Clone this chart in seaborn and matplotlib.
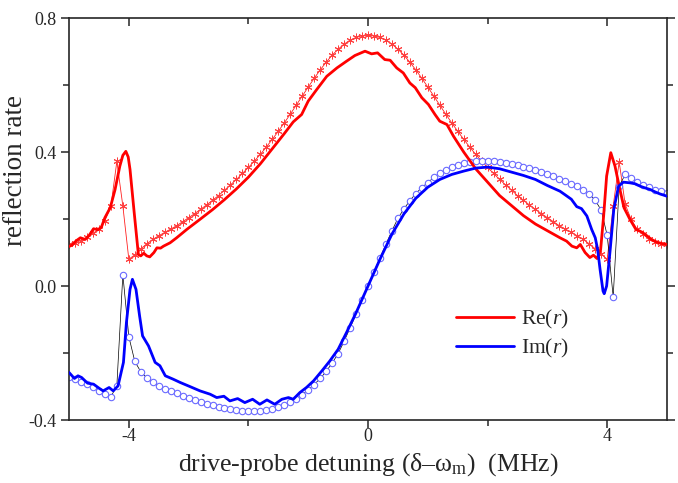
import numpy as np
import pandas as pd
import seaborn as sns
import matplotlib.pyplot as plt

# detuning grid of the fitted (marker) curves, MHz
x_fit = np.round(np.linspace(-5, 5, 101), 2)

re_fit = [0.124, 0.127, 0.133, 0.145, 0.157, 0.170, 0.195, 0.238, 0.372, 0.239,
          0.080, 0.093, 0.111, 0.126, 0.139, 0.150, 0.160, 0.170, 0.180, 0.192,
          0.204, 0.216, 0.229, 0.242, 0.256, 0.270, 0.286, 0.302, 0.318, 0.336,
          0.354, 0.373, 0.393, 0.415, 0.438, 0.462, 0.487, 0.513, 0.540, 0.567,
          0.594, 0.620, 0.645, 0.668, 0.689, 0.707, 0.722, 0.734, 0.742, 0.747,
          0.748,
          0.747, 0.742, 0.734, 0.722, 0.707, 0.689, 0.668, 0.645, 0.620, 0.594,
          0.567, 0.540, 0.513, 0.487, 0.462, 0.438, 0.415, 0.393, 0.373, 0.354,
          0.336, 0.318, 0.302, 0.286, 0.270, 0.256, 0.242, 0.229, 0.216, 0.204,
          0.192, 0.180, 0.170, 0.160, 0.150, 0.139, 0.126, 0.111, 0.095, 0.080,
          0.239, 0.371, 0.244, 0.199, 0.169, 0.154, 0.139, 0.131, 0.126, 0.124]

im_fit = [-0.272, -0.278, -0.286, -0.293, -0.301, -0.312, -0.323, -0.331, -0.297, 0.034,
          -0.151, -0.225, -0.256, -0.274, -0.288, -0.298, -0.306, -0.313, -0.320, -0.327,
          -0.334, -0.340, -0.346, -0.351, -0.356, -0.361, -0.365, -0.368, -0.371, -0.373,
          -0.374, -0.374, -0.373, -0.370, -0.366, -0.361, -0.355, -0.347, -0.337, -0.324,
          -0.309, -0.294, -0.276, -0.255, -0.230, -0.202, -0.165, -0.125, -0.084, -0.042,
          0.000,
          0.042, 0.084, 0.125, 0.165, 0.202, 0.230, 0.255, 0.276, 0.294, 0.309,
          0.324, 0.337, 0.347, 0.355, 0.361, 0.366, 0.370, 0.373, 0.374, 0.374,
          0.373, 0.371, 0.368, 0.365, 0.361, 0.356, 0.351, 0.346, 0.340, 0.334,
          0.327, 0.320, 0.313, 0.306, 0.298, 0.288, 0.275, 0.256, 0.226, 0.151,
          -0.033, 0.298, 0.333, 0.321, 0.311, 0.303, 0.296, 0.288, 0.283, 0.278]

# measured Re(r)
re_x = [-5.00, -4.95, -4.88, -4.81, -4.73, -4.66, -4.59, -4.52, -4.46, -4.40,
        -4.31, -4.23, -4.15, -4.10, -4.05, -4.01, -3.98, -3.91, -3.84, -3.80,
        -3.75, -3.70, -3.65, -3.58, -3.53, -3.47, -3.42, -3.31, -3.20, -3.03,
        -2.81, -2.60, -2.40, -2.20, -2.00, -1.80, -1.60, -1.40, -1.25, -1.11,
        -1.00, -0.86, -0.69, -0.52, -0.36, -0.22, -0.05, 0.06, 0.16, 0.28,
        0.37, 0.48, 0.59, 0.70, 0.79, 0.90, 1.01, 1.12, 1.20, 1.32,
        1.43, 1.60, 1.80, 2.00, 2.20, 2.40, 2.60, 2.80, 3.00, 3.21,
        3.32, 3.41, 3.49, 3.55, 3.63, 3.71, 3.77, 3.83, 3.89, 3.94,
        3.99, 4.06, 4.13, 4.20, 4.28, 4.38, 4.48, 4.58, 4.67, 4.74,
        4.83, 4.91, 5.00]
re_y = [0.118, 0.122, 0.135, 0.144, 0.139, 0.152, 0.171, 0.168, 0.175, 0.204,
        0.234, 0.288, 0.358, 0.390, 0.402, 0.385, 0.348, 0.219, 0.094, 0.090,
        0.098, 0.090, 0.087, 0.100, 0.114, 0.113, 0.119, 0.129, 0.144, 0.169,
        0.199, 0.228, 0.258, 0.290, 0.325, 0.365, 0.410, 0.455, 0.490, 0.512,
        0.552, 0.586, 0.626, 0.651, 0.671, 0.688, 0.701, 0.693, 0.696, 0.676,
        0.674, 0.651, 0.636, 0.606, 0.592, 0.562, 0.542, 0.512, 0.492, 0.482,
        0.447, 0.400, 0.350, 0.310, 0.270, 0.240, 0.210, 0.185, 0.165, 0.144,
        0.134, 0.119, 0.114, 0.124, 0.100, 0.085, 0.092, 0.082, 0.109, 0.209,
        0.328, 0.398, 0.358, 0.298, 0.234, 0.199, 0.169, 0.161, 0.149, 0.139,
        0.131, 0.127, 0.124]

# measured Im(r)
im_x = [-5.00, -4.95, -4.91, -4.85, -4.79, -4.69, -4.59, -4.49, -4.43, -4.33,
        -4.26, -4.18, -4.09, -4.04, -3.98, -3.94, -3.88, -3.82, -3.77, -3.67,
        -3.56, -3.48, -3.39, -3.26, -3.14, -2.98, -2.81, -2.64, -2.53, -2.41,
        -2.31, -2.18, -2.06, -1.93, -1.81, -1.69, -1.56, -1.44, -1.33, -1.25,
        -1.14, -1.03, -0.91, -0.77, -0.64, -0.50, -0.36, -0.20, 0.00, 0.20,
        0.40, 0.60, 0.80, 1.00, 1.20, 1.40, 1.60, 1.80, 2.00, 2.20,
        2.40, 2.60, 2.80, 3.00, 3.21, 3.29, 3.40, 3.49, 3.57, 3.66,
        3.74, 3.80, 3.84, 3.88, 3.93, 3.95, 3.99, 4.05, 4.11, 4.19,
        4.27, 4.38, 4.47, 4.55, 4.63, 4.72, 4.80, 4.88, 5.00]
im_y = [-0.258, -0.268, -0.276, -0.268, -0.273, -0.290, -0.293, -0.306, -0.313, -0.303,
        -0.313, -0.298, -0.228, -0.109, -0.010, 0.020, -0.010, -0.089, -0.149, -0.179,
        -0.228, -0.238, -0.268, -0.278, -0.288, -0.300, -0.313, -0.323, -0.333, -0.329,
        -0.343, -0.336, -0.348, -0.338, -0.353, -0.340, -0.353, -0.338, -0.333, -0.338,
        -0.318, -0.303, -0.283, -0.253, -0.224, -0.189, -0.139, -0.080, 0.000, 0.080,
        0.155, 0.215, 0.262, 0.295, 0.318, 0.333, 0.343, 0.352, 0.355, 0.350,
        0.340, 0.330, 0.318, 0.300, 0.283, 0.273, 0.259, 0.237, 0.231, 0.209,
        0.169, 0.144, 0.109, 0.050, -0.015, -0.023, 0.000, 0.109, 0.229, 0.298,
        0.310, 0.308, 0.305, 0.298, 0.293, 0.288, 0.281, 0.275, 0.268]

fit = pd.DataFrame({"x": x_fit, "re": re_fit, "im": im_fit})
re_df = pd.DataFrame({"x": re_x, "y": re_y})
im_df = pd.DataFrame({"x": im_x, "y": im_y})

sns.set_style("ticks")
plt.rcParams["font.family"] = ["Liberation Serif", "DejaVu Serif"]
plt.rcParams["mathtext.fontset"] = "custom"
plt.rcParams["mathtext.rm"] = "Liberation Serif"
plt.rcParams["mathtext.it"] = "Liberation Serif:italic"
plt.rcParams["axes.unicode_minus"] = False

fig = plt.figure(figsize=(6.78, 4.83), dpi=100)
ax = fig.add_axes([0.1018, 0.1304, 0.882, 0.8323])

# fitted curves with markers
ax.plot(fit["x"], fit["re"], color="#ff2020", lw=0.6, marker=(6, 2, 0),
        ms=5.5, mew=0.7, mec="#ff4040", zorder=2)
ax.plot(fit["x"], fit["im"], color="black", lw=0.5, zorder=2)
ax.plot(fit["x"], fit["im"], ls="none", marker="o", ms=4.6, mfc="white",
        mec="#6a6aff", mew=0.8, zorder=2.5)

# measured curves
sns.lineplot(data=re_df, x="x", y="y", ax=ax, color="#ff0000", lw=2.0,
             sort=False, estimator=None, label="Re($r$)", zorder=3)
sns.lineplot(data=im_df, x="x", y="y", ax=ax, color="#0000ff", lw=2.0,
             sort=False, estimator=None, label="Im($r$)", zorder=3)

ax.set_xlim(-5, 5)
ax.set_ylim(-0.4, 0.8)
ax.set_xticks([-4, 0, 4])
ax.set_xticks([-2, 2], minor=True)
ax.set_xticklabels(["-4", "0", "4"])
ax.set_yticks([-0.4, 0.0, 0.4, 0.8])
ax.set_yticks([-0.2, 0.2, 0.6], minor=True)
ax.set_yticklabels(["-0.4", "0.0", "0.4", "0.8"])
ax.tick_params(which="major", length=6, width=1.1, labelsize=13, pad=3,
               right=True, direction="out")
ax.tick_params(which="minor", length=4, width=1.1, right=True, direction="out")
# top axis carries short inward ticks
ax.tick_params(axis="x", which="major", top=True)
ax.tick_params(axis="x", which="minor", top=True)
ax.xaxis.set_tick_params(which="both", direction="inout")
for t in ax.xaxis.get_major_ticks() + ax.xaxis.get_minor_ticks():
    t.tick1line.set_marker(3)   # bottom: pointing down (outward)
    t.tick2line.set_marker(3)   # top: pointing down (inward)
for s in ax.spines.values():
    s.set_linewidth(1.2)

ax.set_xlabel("drive-probe detuning (δ–ω$_{\\rm m}$)  (MHz)", fontsize=18.5, labelpad=4)
ax.set_ylabel("reflection rate", fontsize=19.5)
ax.yaxis.set_label_coords(-0.068, 0.62)

ax.legend(loc="lower left", bbox_to_anchor=(0.615, 0.10), frameon=False,
          fontsize=15.5, handlelength=2.7, handletextpad=0.3, labelspacing=0.3)

fig.savefig("out.png", dpi=100)
